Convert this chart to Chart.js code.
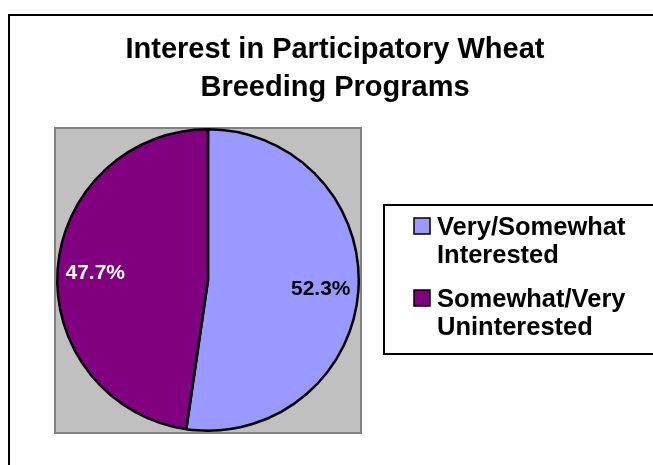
<!DOCTYPE html>
<html>
<head>
<meta charset="utf-8">
<title>Interest in Participatory Wheat Breeding Programs</title>
<script src="https://cdn.jsdelivr.net/npm/chart.js@4.4.1/dist/chart.umd.min.js"></script>
<style>
  html, body { margin: 0; padding: 0; background: #fff; }
  canvas { display: block; }
</style>
</head>
<body>
<canvas id="chart" width="653" height="465"></canvas>
<script>
// Veriler
const titleLines = ['Interest in Participatory Wheat', 'Breeding Programs'];
const categories = [['Very/Somewhat', 'Interested'], ['Somewhat/Very', 'Uninterested']];
const values = [52.3, 47.7];
const sliceColors = ['#9999FF', '#800080'];
const labelColors = ['#000000', '#FFFFFF'];

const FONT = "'Liberation Sans', Arial, sans-serif";

// Dış çerçeve, gri çizim alanı ve başlık
const framePlugin = {
  id: 'frame',
  beforeDraw(chart) {
    const ctx = chart.ctx;
    const a = chart.chartArea;
    ctx.save();
    ctx.fillStyle = '#fff';
    ctx.fillRect(0, 0, chart.width, chart.height);

    ctx.strokeStyle = '#000';
    ctx.lineWidth = 2;
    ctx.strokeRect(9, 15, 700, 500);

    ctx.fillStyle = '#C0C0C0';
    ctx.fillRect(a.left - 1, a.top, a.width + 2, a.height + 1);
    ctx.strokeStyle = '#808080';
    ctx.lineWidth = 2;
    ctx.strokeRect(a.left - 1, a.top, a.width + 2, a.height + 1);

    ctx.fillStyle = '#000';
    ctx.font = 'bold 29px ' + FONT;
    ctx.textAlign = 'center';
    ctx.textBaseline = 'alphabetic';
    titleLines.forEach((line, i) => ctx.fillText(line, 335, 58 + i * 38));
    ctx.restore();
  }
};

// Dilim üzerindeki yüzde etiketleri ve sağdaki lejant
const labelsPlugin = {
  id: 'labels',
  afterDatasetsDraw(chart) {
    const ctx = chart.ctx;
    const meta = chart.getDatasetMeta(0);
    ctx.save();
    ctx.font = 'bold 21px ' + FONT;
    ctx.textAlign = 'center';
    ctx.textBaseline = 'middle';
    meta.data.forEach((arc, i) => {
      const mid = (arc.startAngle + arc.endAngle) / 2;
      const r = arc.outerRadius * 0.75;
      ctx.fillStyle = labelColors[i];
      ctx.fillText(values[i].toFixed(1) + '%', arc.x + Math.cos(mid) * r, arc.y + Math.sin(mid) * r + 1);
    });

    // lejant kutusu
    ctx.fillStyle = '#fff';
    ctx.fillRect(384, 205, 300, 149);
    ctx.strokeStyle = '#000';
    ctx.lineWidth = 2;
    ctx.strokeRect(384, 205, 300, 149);

    ctx.font = 'bold 25.5px ' + FONT;
    ctx.textAlign = 'left';
    ctx.textBaseline = 'alphabetic';
    chart.data.labels.forEach((lines, i) => {
      const top = 218 + i * 72;
      ctx.fillStyle = chart.data.datasets[0].backgroundColor[i];
      ctx.fillRect(414, top, 16, 16);
      ctx.strokeStyle = '#000';
      ctx.lineWidth = 1.5;
      ctx.strokeRect(414, top, 16, 16);
      ctx.fillStyle = '#000';
      lines.forEach((txt, j) => ctx.fillText(txt, 437, top + 17 + j * 28));
    });
    ctx.restore();
  }
};

new Chart(document.getElementById('chart'), {
  type: 'pie',
  data: {
    labels: categories,
    datasets: [{
      data: values,
      backgroundColor: sliceColors,
      borderColor: '#000',
      borderWidth: 2.5
    }]
  },
  options: {
    responsive: false,
    animation: false,
    devicePixelRatio: 1,
    events: [],
    layout: { padding: { left: 56, right: 293, top: 128, bottom: 33 } },
    plugins: {
      legend: { display: false },
      title: { display: false },
      tooltip: { enabled: false }
    }
  },
  plugins: [framePlugin, labelsPlugin]
});
</script>
</body>
</html>
